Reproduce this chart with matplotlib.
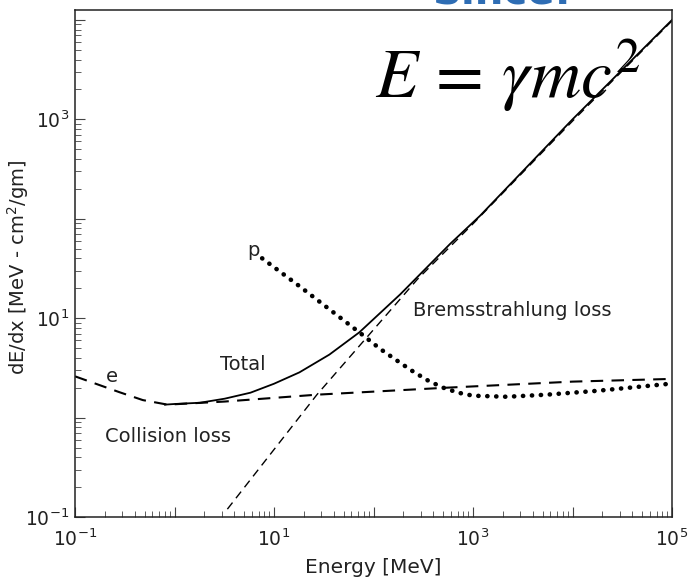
import math
import matplotlib
matplotlib.use('Agg')
import matplotlib.pyplot as plt
from matplotlib.ticker import LogLocator, FixedLocator, NullFormatter, FuncFormatter

# ---- data ----
collision_E = [0.1, 0.28, 0.48, 0.85, 3.2, 27, 550, 1.0e4, 1.0e5]
collision_dEdx = [2.6, 1.8, 1.5, 1.35, 1.45, 1.7, 2.0, 2.3, 2.45]

total_E = [0.8, 1.0, 1.8, 3.2, 5.8, 10, 18, 36, 72, 186, 590, 1175, 1.0e4, 1.0e5]
total_dEdx = [1.35, 1.37, 1.41, 1.55, 1.78, 2.19, 2.85, 4.3, 7.2, 17.4, 56, 107, 1000, 1.0e4]

brems_E = [3.4, 27, 275, 1000, 1.0e4, 1.0e5]
brems_dEdx = [0.12, 1.7, 24.5, 89, 960, 9800]

proton_E = [7.6, 18, 72, 117, 186, 251, 355, 500, 710, 1000, 2190, 5500, 17800, 95500]
proton_dEdx = [40, 21, 7.2, 4.9, 3.55, 2.9, 2.35, 2.0, 1.78, 1.66, 1.62, 1.7, 1.86, 2.19]

x_tick_labels_exp = [-1, 1, 3, 5]
y_tick_labels_exp = [-1, 1, 3]

W, H = 688, 583
fig = plt.figure(figsize=(W / 100, H / 100), dpi=100)
ax = fig.add_axes([75 / W, (H - 517) / H, (672 - 75) / W, (517 - 10) / H])

ax.set_xscale('log')
ax.set_yscale('log')
ax.set_xlim(1e-1, 1e5)
ax.set_ylim(1e-1, 10 ** 4.1)

dash = (0, (6, 4))
ax.plot(collision_E, collision_dEdx, color='black', lw=1.5, linestyle=dash)
ax.plot(brems_E, brems_dEdx, color='black', lw=1.0, linestyle=dash)
ax.plot(total_E, total_dEdx, color='black', lw=1.3, linestyle='-')
ax.plot(proton_E, proton_dEdx, color='black', lw=3.3, linestyle=(0, (0.05, 1.9)),
        dash_capstyle='round', solid_capstyle='round')

lab = dict(fontsize=14, color='#222222', family='DejaVu Sans')
ax.text(0.235, 2.57, 'e', ha='center', va='center', **lab)
ax.text(4.9, 3.4, 'Total', ha='center', va='center', **lab)
ax.text(0.86, 0.64, 'Collision loss', ha='center', va='center', **lab)
ax.text(2500, 12, 'Bremsstrahlung loss', ha='center', va='center', **lab)
ax.text(6.2, 48, 'p', ha='center', va='center', **lab)

# ticks
ax.xaxis.set_major_locator(FixedLocator([10.0 ** e for e in range(-1, 6)]))
ax.yaxis.set_major_locator(FixedLocator([10.0 ** e for e in range(-1, 5)]))
ax.xaxis.set_minor_locator(LogLocator(base=10, subs=range(2, 10), numticks=20))
ax.yaxis.set_minor_locator(LogLocator(base=10, subs=range(2, 10), numticks=20))
ax.xaxis.set_minor_formatter(NullFormatter())
ax.yaxis.set_minor_formatter(NullFormatter())


def xfmt(v, pos):
    e = int(round(math.log10(v)))
    return r'$10^{%d}$' % e if e in x_tick_labels_exp else ''


def yfmt(v, pos):
    e = int(round(math.log10(v)))
    return r'$10^{%d}$' % e if e in y_tick_labels_exp else ''


ax.xaxis.set_major_formatter(FuncFormatter(xfmt))
ax.yaxis.set_major_formatter(FuncFormatter(yfmt))
ax.tick_params(which='both', direction='in', top=False, right=False,
               colors='#444444', labelcolor='#222222', labelsize=13.5)
ax.tick_params(which='major', length=7, width=0.8)
ax.tick_params(axis='x', which='major', pad=8)
ax.tick_params(axis='y', which='major', pad=4)
ax.tick_params(which='minor', length=4, width=0.6)
for s in ax.spines.values():
    s.set_linewidth(1.1)
    s.set_color('#222222')

ax.set_xlabel('Energy [MeV]', fontsize=14.5, color='#222222')
ax.xaxis.set_label_coords((373 - 75) / 597, -(558 - 517) / 507)
ax.set_ylabel(r'dE/dx [MeV - cm$^2$/gm]', fontsize=14, color='#222222')
ax.yaxis.set_label_coords((31 - 75) / 597, (517 - 267) / 507)

# overlays from the slide
fig.text(375 / W, (H - 98) / H, r'$E\,=\,\gamma mc^2$', fontsize=50,
         math_fontfamily='stix', ha='left', va='baseline', color='black')
fig.text(676 / W, (H - 98) / H, r'$<$', fontsize=50,
         math_fontfamily='stix', ha='left', va='baseline', color='black')
fig.text(432 / W, (H - 3) / H, 'Since:', fontsize=29, fontweight='bold',
         color='#2E6DB4', ha='left', va='baseline')

fig.savefig('out.png', dpi=100)
